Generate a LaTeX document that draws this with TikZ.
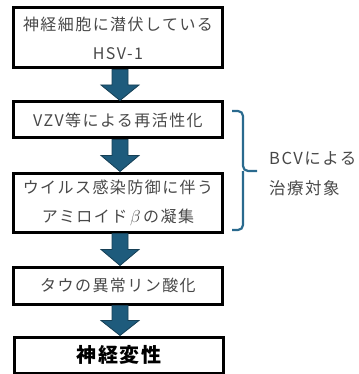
\documentclass[tikz,border=0pt]{standalone}
\usepackage{fontspec}
\setmainfont[LetterSpace=9]{Noto Sans CJK JP}
\usetikzlibrary{calc}
\definecolor{txtgray}{HTML}{484848}
\definecolor{arrfill}{HTML}{1E5B7C}
\definecolor{arrline}{HTML}{163F55}
\definecolor{bracecol}{HTML}{2A6A8E}
\tikzset{
  box/.style={draw=black, line width=3pt, rectangle, minimum width=209pt, inner sep=0pt,
    text=txtgray, align=center, font=\fontsize{16}{29}\selectfont},
  blockarr/.style={fill=arrfill, draw=arrline, line width=0.8pt, line join=miter},
  sidelabel/.style={text=txtgray, align=left, font=\fontsize{16.5}{30}\selectfont, inner sep=0pt, anchor=west}
}
\newcommand\myblockarrow[2]{%
  \path[blockarr] let \p1=($(#1.south)+(2pt,0)$), \p2=(#2.north), \n1={(\y1+\y2)/2} in
    (\x1-8pt,\y1) -- (\x1+8pt,\y1) -- (\x1+8pt,\n1) -- (\x1+19pt,\n1) -- (\x1,\y2)
    -- (\x1-19pt,\n1) -- (\x1-8pt,\n1) -- cycle;}
\begin{document}
\begin{tikzpicture}[x=1pt,y=-1pt]
\useasboundingbox (0,0) rectangle (358,374);
\node[box, minimum height=60pt] (b1) at (118,38) {神経細胞に潜伏している\\HSV-1};
\node[box, minimum height=36pt] (b2) at (118,120) {VZV等による再活性化};
\node[box, minimum height=59pt] (b3) at (118,202.5) {ウイルス感染防御に伴う\\アミロイド\,$\beta$\,の凝集};
\node[box, minimum height=37pt] (b4) at (118,285.5) {タウの異常リン酸化};
\node[box, minimum height=36pt, font=\fontsize{20}{20}\selectfont\bfseries, text=black] (b5) at (119,355) {神経変性};
\myblockarrow{b1}{b2}
\myblockarrow{b2}{b3}
\myblockarrow{b3}{b4}
\myblockarrow{b4}{b5}
\coordinate (bt) at (232,111);
\coordinate (bm) at (243,171);
\coordinate (bb) at (232,230);
\coordinate (tip) at (257,171);
\draw[bracecol, line width=2.2pt, rounded corners=5pt] (bt) -| (bm) -- (tip);
\draw[bracecol, line width=2.2pt, rounded corners=5pt] (bb) -| (bm);
\node[sidelabel] (lab) at (269,174) {BCVによる\\治療対象};
\end{tikzpicture}
\end{document}
